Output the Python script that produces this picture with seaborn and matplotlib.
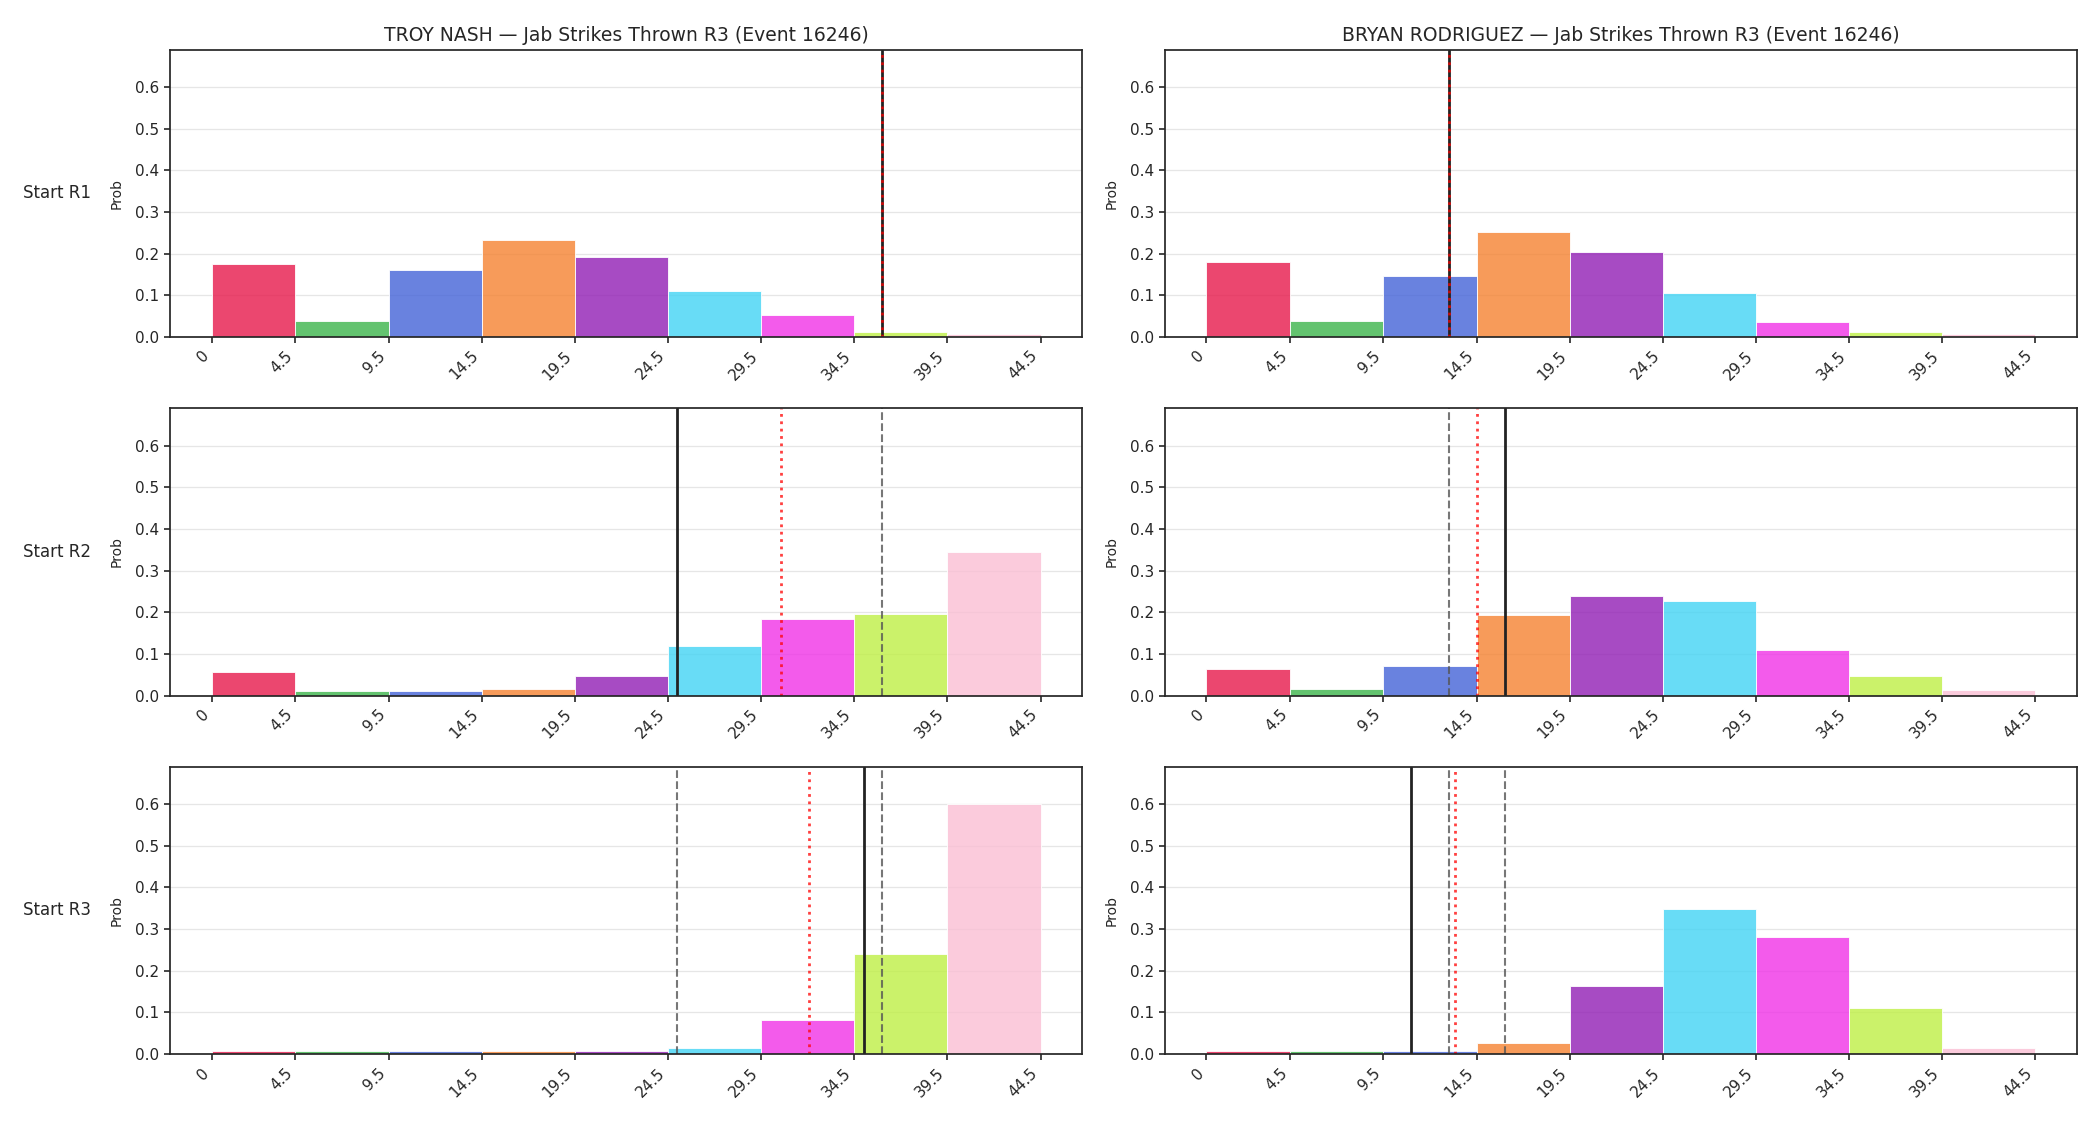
import numpy as np
import pandas as pd
import seaborn as sns
import matplotlib
matplotlib.use("Agg")
import matplotlib.pyplot as plt

# bins for jab strikes thrown in R3
edges = [0, 4.5, 9.5, 14.5, 19.5, 24.5, 29.5, 34.5, 39.5, 44.5]
tick_labels = ["0", "4.5", "9.5", "14.5", "19.5", "24.5", "29.5", "34.5", "39.5", "44.5"]
bin_colors = ["#e6194b", "#3cb44b", "#4363d8", "#f58231", "#911eb4",
              "#42d4f4", "#f032e6", "#bfef45", "#fabed4"]

fighters = ["TROY NASH", "BRYAN RODRIGUEZ"]
rounds = ["Start R1", "Start R2", "Start R3"]

# probabilities per bin, one list per starting round
nash_r1 = [0.176, 0.039, 0.161, 0.232, 0.193, 0.110, 0.053, 0.013, 0.007]
nash_r2 = [0.056, 0.010, 0.010, 0.015, 0.048, 0.118, 0.183, 0.195, 0.345]
nash_r3 = [0.008, 0.008, 0.008, 0.008, 0.008, 0.015, 0.082, 0.241, 0.600]
rod_r1 = [0.179, 0.039, 0.147, 0.253, 0.204, 0.106, 0.036, 0.013, 0.008]
rod_r2 = [0.064, 0.015, 0.072, 0.193, 0.239, 0.227, 0.109, 0.048, 0.013]
rod_r3 = [0.008, 0.008, 0.008, 0.026, 0.164, 0.349, 0.282, 0.111, 0.015]

# marker lines: solid = line, dotted = mean, dashed = earlier lines
nash_solid = [36, 25, 35]
nash_dotted = [36, 30.55, 32.05]
nash_dashed = [[], [36], [25, 36]]
rod_solid = [13, 16, 11]
rod_dotted = [13, 14.5, 13.35]
rod_dashed = [[], [13], [13, 16]]

probs = {"TROY NASH": [nash_r1, nash_r2, nash_r3],
         "BRYAN RODRIGUEZ": [rod_r1, rod_r2, rod_r3]}
solid = {"TROY NASH": nash_solid, "BRYAN RODRIGUEZ": rod_solid}
dotted = {"TROY NASH": nash_dotted, "BRYAN RODRIGUEZ": rod_dotted}
dashed = {"TROY NASH": nash_dashed, "BRYAN RODRIGUEZ": rod_dashed}

ymax = 1.15 * max(max(p) for f in fighters for p in probs[f])
span = edges[-1] - edges[0]

sns.set_style("ticks", {"axes.edgecolor": ".15", "axes.grid": False})
plt.rcParams["font.family"] = ["DejaVu Sans"]
plt.rcParams["axes.linewidth"] = 1.25
plt.rcParams["xtick.major.width"] = 1.2
plt.rcParams["ytick.major.width"] = 1.2
plt.rcParams["xtick.major.size"] = 4.5
plt.rcParams["ytick.major.size"] = 4.5

fig, axes = plt.subplots(3, 2, figsize=(21, 11.25), dpi=100)
fig.subplots_adjust(left=0.081, right=0.989, bottom=0.063, top=0.956,
                    wspace=0.091, hspace=0.247)

for c, fighter in enumerate(fighters):
    for r, rnd in enumerate(rounds):
        ax = axes[r, c]
        # one bar per bin, each its own colour
        for i, p in enumerate(probs[fighter][r]):
            lo, hi = edges[i], edges[i + 1]
            sns.histplot(x=[(lo + hi) / 2], weights=[p], bins=[lo, hi],
                         color=bin_colors[i], alpha=0.8, edgecolor="white",
                         linewidth=0.6, ax=ax)

        for d in dashed[fighter][r]:
            ax.axvline(d, color="#555555", alpha=0.8, lw=1.5, ls="--")
        ax.axvline(solid[fighter][r], color="#222222", lw=2)
        ax.axvline(dotted[fighter][r], color="red", alpha=0.75, lw=2, ls=":")

        ax.set_xlim(edges[0] - 0.05 * span, edges[-1] + 0.05 * span)
        ax.set_ylim(0, ymax)
        ax.set_xticks(edges)
        ax.set_xticklabels(tick_labels, rotation=45, ha="right")
        ax.tick_params(labelsize=11)
        ax.set_xlabel("")
        ax.set_ylabel("Prob", fontsize=10, labelpad=8)
        ax.grid(axis="y", color="#e6e6e6", lw=0.9)
        ax.set_axisbelow(True)

        if r == 0:
            ax.set_title(f"{fighter} — Jab Strikes Thrown R3 (Event 16246)", fontsize=13.5)
        if c == 0:
            ax.text(-0.087, 0.5, rnd, transform=ax.transAxes, ha="right",
                    va="center", fontsize=12)

fig.savefig("out.png", dpi=100)
